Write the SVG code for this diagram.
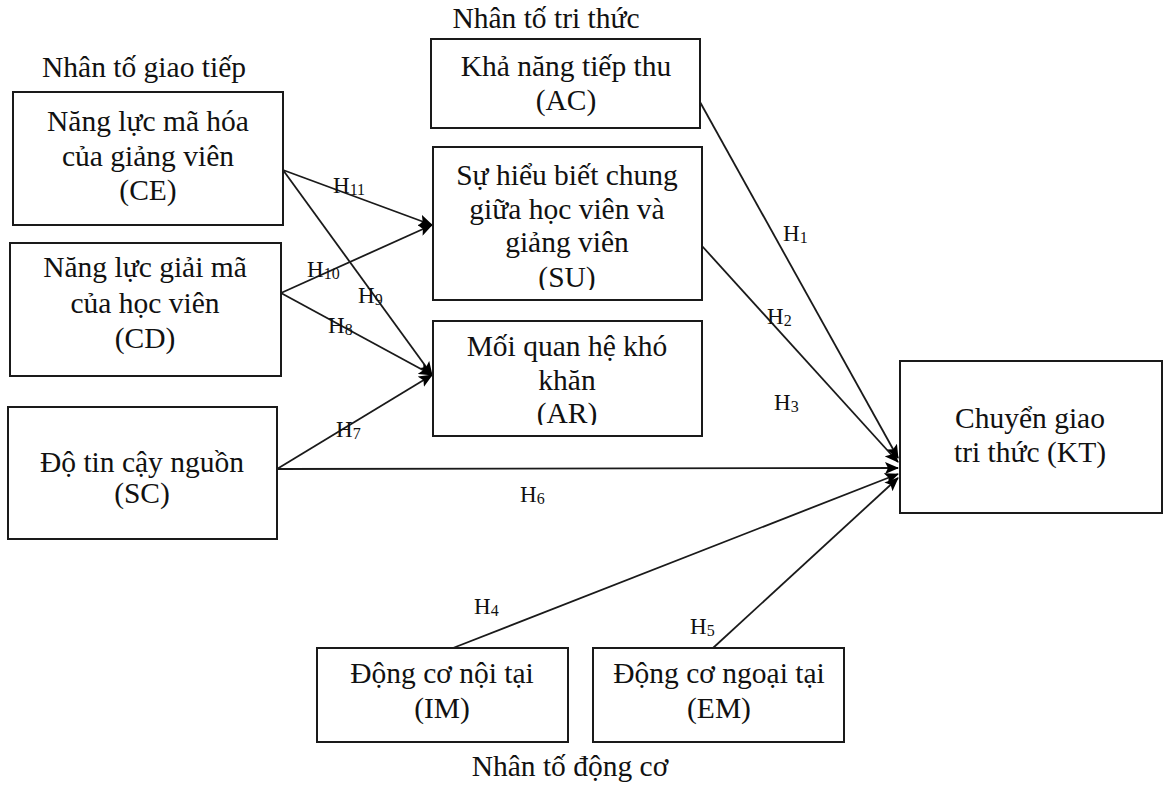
<svg xmlns="http://www.w3.org/2000/svg" width="1163" height="785" viewBox="0 0 1163 785">
<style>
.box{fill:#fff;stroke:#1a1a1a;stroke-width:2}
.t{font-family:"Liberation Serif","Times New Roman",serif;font-size:29.5px;fill:#111;text-anchor:middle}
.lb{font-family:"Liberation Serif","Times New Roman",serif;font-size:23px;fill:#111}
.sub{font-size:16px}
.c{fill:none;stroke:#1a1a1a;stroke-width:1.8}
</style>
<defs>
<marker id="ah" markerUnits="userSpaceOnUse" markerWidth="14" markerHeight="12" refX="13" refY="6" orient="auto">
<path d="M0,0 L14,6 L0,12 L3,6 z" fill="#000"/>
</marker>
<clipPath id="clipSU"><rect x="433" y="147" width="269" height="143"/></clipPath>
<clipPath id="clipAR"><rect x="433" y="321" width="269" height="104"/></clipPath>
</defs>
<rect width="1163" height="785" fill="#fff"/>

<text class="t" x="144" y="77">Nhân tố giao tiếp</text>
<text class="t" x="546" y="28">Nhân tố tri thức</text>
<text class="t" x="570" y="776">Nhân tố động cơ</text>

<g id="connectors">
<path class="c" d="M283,170 L432,225" marker-end="url(#ah)"/>
<path class="c" d="M281,293 L432,225" marker-end="url(#ah)"/>
<path class="c" d="M283,170 L432,375" marker-end="url(#ah)"/>
<path class="c" d="M281,293 L432,375" marker-end="url(#ah)"/>
<path class="c" d="M277,469 L432,375" marker-end="url(#ah)"/>
<path class="c" d="M277,469 L898,468" marker-end="url(#ah)"/>
<path class="c" d="M700,102 L898,458" marker-end="url(#ah)"/>
<path class="c" d="M702,246 L898,462" marker-end="url(#ah)"/>
<path class="c" d="M453,648 L898,474" marker-end="url(#ah)"/>
<path class="c" d="M713,648 L898,478" marker-end="url(#ah)"/>
<text class="lb" x="333" y="193">H<tspan class="sub" dy="2">11</tspan></text>
<text class="lb" x="307" y="277">H<tspan class="sub" dy="2">10</tspan></text>
<text class="lb" x="358" y="303">H<tspan class="sub" dy="2">9</tspan></text>
<text class="lb" x="328" y="333">H<tspan class="sub" dy="2">8</tspan></text>
<text class="lb" x="336" y="437">H<tspan class="sub" dy="2">7</tspan></text>
<text class="lb" x="520" y="502">H<tspan class="sub" dy="2">6</tspan></text>
<text class="lb" x="783" y="241">H<tspan class="sub" dy="2">1</tspan></text>
<text class="lb" x="767" y="324">H<tspan class="sub" dy="2">2</tspan></text>
<text class="lb" x="774" y="410">H<tspan class="sub" dy="2">3</tspan></text>
<text class="lb" x="474" y="614">H<tspan class="sub" dy="2">4</tspan></text>
<text class="lb" x="690" y="634">H<tspan class="sub" dy="2">5</tspan></text>
</g>

<g id="CE">
<rect class="box" x="13" y="92" width="270" height="133"/>
<text class="t" x="148" y="131">Năng lực mã hóa</text>
<text class="t" x="148" y="166">của giảng viên</text>
<text class="t" x="148" y="200">(CE)</text>
</g>
<g id="CD">
<rect class="box" x="10" y="243" width="271" height="133"/>
<text class="t" x="145" y="277">Năng lực giải mã</text>
<text class="t" x="145" y="313">của học viên</text>
<text class="t" x="145" y="348">(CD)</text>
</g>
<g id="SC">
<rect class="box" x="8" y="407" width="269" height="132"/>
<text class="t" x="142" y="472">Độ tin cậy nguồn</text>
<text class="t" x="142" y="503">(SC)</text>
</g>
<g id="AC">
<rect class="box" x="431" y="39" width="269" height="89"/>
<text class="t" x="566" y="76">Khả năng tiếp thu</text>
<text class="t" x="566" y="110">(AC)</text>
</g>
<g id="SU">
<rect class="box" x="433" y="147" width="269" height="153"/>
<g clip-path="url(#clipSU)">
<text class="t" x="567" y="185">Sự hiểu biết chung</text>
<text class="t" x="567" y="219">giữa học viên và</text>
<text class="t" x="567" y="252">giảng viên</text>
<text class="t" x="567" y="287">(SU)</text>
</g>
</g>
<g id="AR">
<rect class="box" x="433" y="321" width="269" height="115"/>
<g clip-path="url(#clipAR)">
<text class="t" x="567" y="356">Mối quan hệ khó</text>
<text class="t" x="567" y="390">khăn</text>
<text class="t" x="567" y="423">(AR)</text>
</g>
</g>
<g id="KT">
<rect class="box" x="900" y="361" width="262" height="152"/>
<text class="t" x="1030" y="428">Chuyển giao</text>
<text class="t" x="1030" y="462">tri thức (KT)</text>
</g>
<g id="IM">
<rect class="box" x="317" y="648" width="251" height="94"/>
<text class="t" x="442" y="683">Động cơ nội tại</text>
<text class="t" x="442" y="718">(IM)</text>
</g>
<g id="EM">
<rect class="box" x="593" y="648" width="251" height="94"/>
<text class="t" x="719" y="683">Động cơ ngoại tại</text>
<text class="t" x="719" y="718">(EM)</text>
</g>
</svg>
